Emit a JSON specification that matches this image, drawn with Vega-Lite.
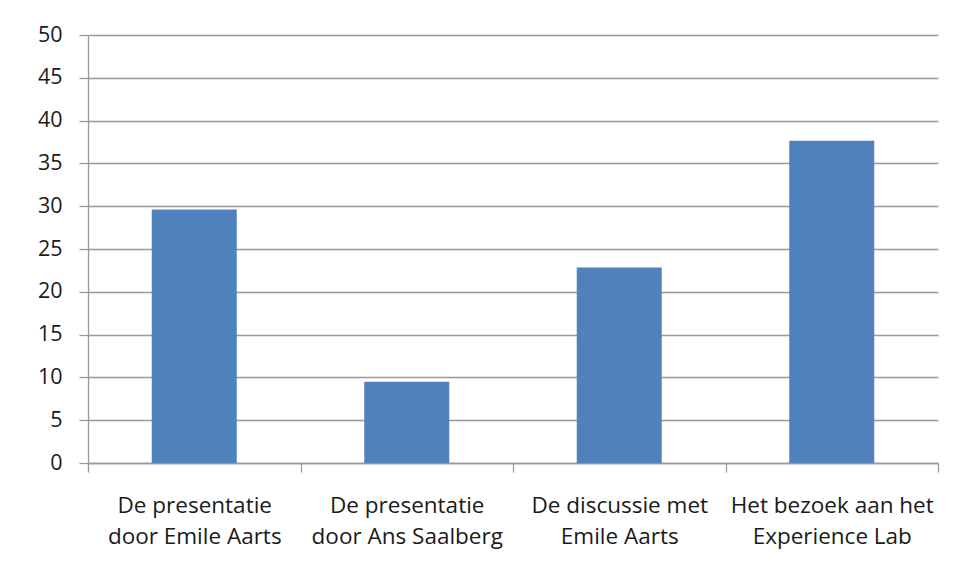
{
  "$schema": "https://vega.github.io/schema/vega-lite/v6.json",
  "width": 850,
  "height": 428,
  "autosize": {"type": "none"},
  "padding": {"left": 88, "top": 35, "right": 17, "bottom": 114},
  "background": "white",
  "data": {
    "values": [
      {"activiteit": "De presentatie\ndoor Emile Aarts", "waarde": 29.6},
      {"activiteit": "De presentatie\ndoor Ans Saalberg", "waarde": 9.5},
      {"activiteit": "De discussie met\nEmile Aarts", "waarde": 22.85},
      {"activiteit": "Het bezoek aan het\nExperience Lab", "waarde": 37.65}
    ]
  },
  "mark": {"type": "bar", "color": "#4F81BD", "width": {"band": 0.4}},
  "encoding": {
    "x": {
      "field": "activiteit",
      "type": "nominal",
      "sort": null,
      "title": null,
      "scale": {"paddingInner": 0, "paddingOuter": 0},
      "axis": {
        "tickBand": "extent",
        "labelAngle": 0,
        "labelExpr": "split(datum.label, '\\n')",
        "labelFontSize": 22.5,
        "labelLimit": 400,
        "labelLineHeight": 31,
        "labelPadding": 22,
        "tickSize": 9,
        "grid": false
      }
    },
    "y": {
      "field": "waarde",
      "type": "quantitative",
      "title": null,
      "scale": {"domain": [0, 50], "nice": false},
      "axis": {
        "values": [0, 5, 10, 15, 20, 25, 30, 35, 40, 45, 50],
        "labelFontSize": 21.5,
        "tickSize": 9,
        "labelPadding": 17,
        "grid": true
      }
    }
  },
  "config": {
    "view": {"stroke": null},
    "axis": {
      "labelFont": "Open Sans",
      "labelColor": "#1a1a1a",
      "domainColor": "#999999",
      "tickColor": "#999999",
      "gridColor": "#999999",
      "domainWidth": 1.3,
      "tickWidth": 1.3,
      "gridWidth": 1.3
    }
  }
}
